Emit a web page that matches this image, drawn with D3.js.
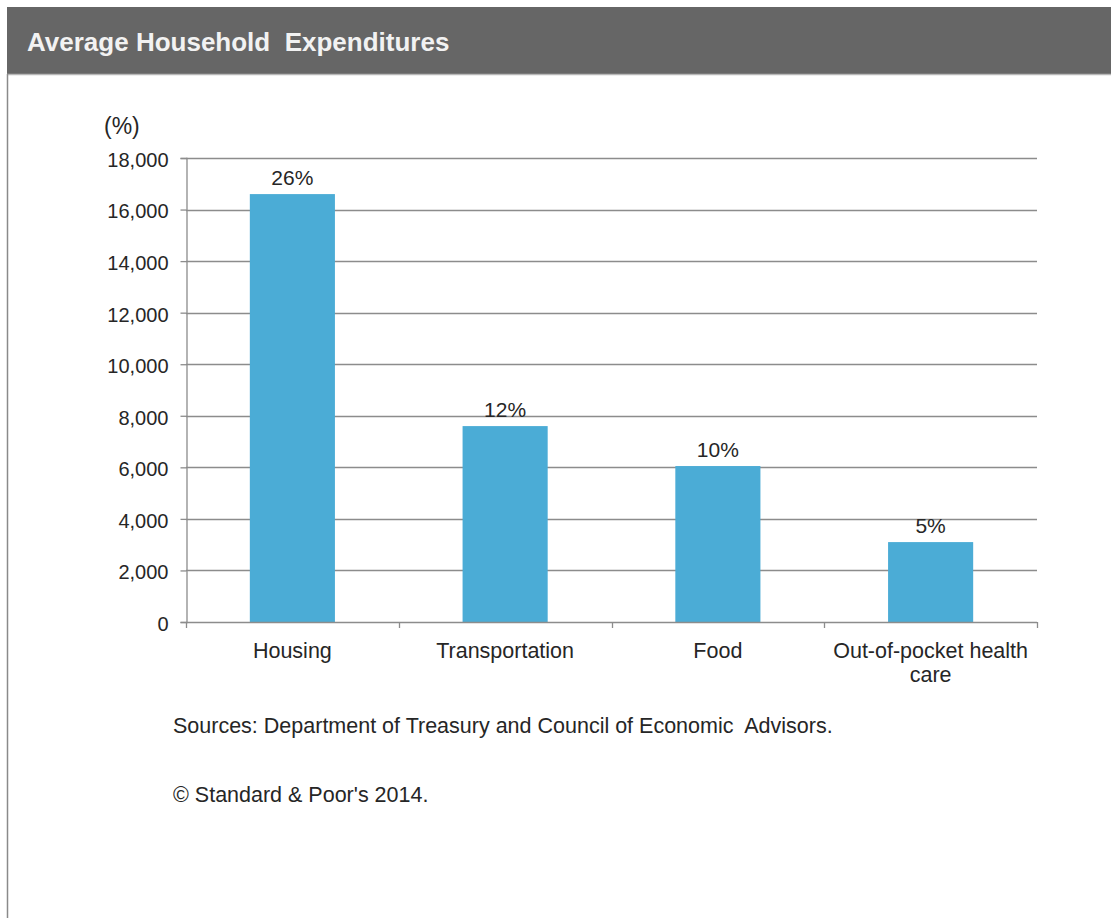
<!DOCTYPE html>
<html>
<head>
<meta charset="utf-8">
<script src="https://cdn.jsdelivr.net/npm/d3@7"></script>
<style>
  html, body { margin: 0; padding: 0; background: #fff; }
  svg { display: block; }
  text { font-family: "Liberation Sans", Arial, sans-serif; }
</style>
</head>
<body>
<script>
const categories = ["Housing", "Transportation", "Food", "Out-of-pocket health care"];
const values = [16600, 7600, 6050, 3100];
const pctLabels = ["26%", "12%", "10%", "5%"];
const yTicks = [0, 2000, 4000, 6000, 8000, 10000, 12000, 14000, 16000, 18000];
const title = "Average Household  Expenditures";
const unitLabel = "(%)";
const notes = ["Sources: Department of Treasury and Council of Economic  Advisors.", "\u00A9 Standard & Poor's 2014."];

(function () {
const W = 1111, H = 918;
const svg = d3.select("body").append("svg").attr("width", W).attr("height", H);
const textColor = "#262626";

// frame
svg.append("rect").attr("x", 7).attr("y", 7).attr("width", W - 7).attr("height", 67).attr("fill", "#666666");
svg.append("line").attr("x1", 7).attr("x2", W).attr("y1", 74.5).attr("y2", 74.5).attr("stroke", "#b8b8b8").attr("stroke-width", 1.5);
svg.append("line").attr("x1", 7.5).attr("x2", 7.5).attr("y1", 74).attr("y2", H).attr("stroke", "#8a8a8a").attr("stroke-width", 1.5);
svg.append("text").attr("x", 27).attr("y", 51).attr("fill", "#f2f2f2")
  .attr("font-size", 26).attr("font-weight", "bold").style("white-space", "pre").text(title);

const mLeft = 186, mRight = 1037, mTop = 158, mBottom = 622;
const x = d3.scaleBand().domain(categories).range([mLeft, mRight]).paddingInner(0.6).paddingOuter(0.3);
const y = d3.scaleLinear().domain([0, 18000]).range([mBottom, mTop]);

// gridlines
svg.append("g").selectAll("line").data(yTicks.filter(d => d > 0)).join("line")
  .attr("x1", mLeft).attr("x2", mRight)
  .attr("y1", d => Math.round(y(d)) + 0.5).attr("y2", d => Math.round(y(d)) + 0.5)
  .attr("stroke", "#8c8c8c").attr("stroke-width", 1.3);

// bars
svg.append("g").selectAll("rect").data(categories).join("rect")
  .attr("x", d => x(d)).attr("width", x.bandwidth())
  .attr("y", (d, i) => y(values[i])).attr("height", (d, i) => mBottom - y(values[i]))
  .attr("fill", "#4bacd6");

// value labels
svg.append("g").selectAll("text").data(categories).join("text")
  .attr("x", d => x(d) + x.bandwidth() / 2)
  .attr("y", (d, i) => y(values[i]) - 9)
  .attr("text-anchor", "middle").attr("font-size", 21).attr("fill", textColor)
  .text((d, i) => pctLabels[i]);

// y axis
const yAxis = svg.append("g").attr("transform", `translate(${mLeft + 0.5},0)`)
  .call(d3.axisLeft(y).tickValues(yTicks).tickSize(6).tickPadding(12).tickFormat(d3.format(",")));
yAxis.select(".domain").attr("stroke", "#8c8c8c").attr("stroke-width", 1.3);
yAxis.selectAll(".tick line").attr("stroke", "#8c8c8c").attr("stroke-width", 1.3);
yAxis.selectAll(".tick text").attr("font-size", 20).attr("fill", textColor).attr("dy", "0.42em")
  .attr("font-family", "Liberation Sans, Arial, sans-serif");

// x axis line and category boundary ticks
svg.append("line").attr("x1", mLeft).attr("x2", mRight).attr("y1", mBottom + 0.5).attr("y2", mBottom + 0.5)
  .attr("stroke", "#8c8c8c").attr("stroke-width", 1.3);
const tickXs = d3.range(categories.length + 1).map(i => mLeft + i * x.step());
svg.append("g").selectAll("line").data(tickXs).join("line")
  .attr("x1", d => Math.round(d) + 0.5).attr("x2", d => Math.round(d) + 0.5)
  .attr("y1", mBottom).attr("y2", mBottom + 6)
  .attr("stroke", "#8c8c8c").attr("stroke-width", 1.3);

// category labels (wrapped)
const wrapLines = { "Out-of-pocket health care": ["Out-of-pocket health", "care"] };
const catG = svg.append("g");
categories.forEach(c => {
  const lines = wrapLines[c] || [c];
  const cx = x(c) + x.bandwidth() / 2;
  const t = catG.append("text").attr("x", cx).attr("y", 658)
    .attr("text-anchor", "middle").attr("font-size", 21.5).attr("fill", textColor);
  lines.forEach((l, i) => t.append("tspan").attr("x", cx).attr("dy", i === 0 ? 0 : 24).text(l));
});

// unit label
svg.append("text").attr("x", 104).attr("y", 134).attr("font-size", 23).attr("fill", textColor).text(unitLabel);

// notes
svg.append("text").attr("x", 173).attr("y", 733).attr("font-size", 21.5).attr("fill", textColor).style("white-space", "pre").text(notes[0]);
svg.append("text").attr("x", 173).attr("y", 802).attr("font-size", 21.5).attr("fill", textColor).text(notes[1]);
})();
</script>
</body>
</html>
